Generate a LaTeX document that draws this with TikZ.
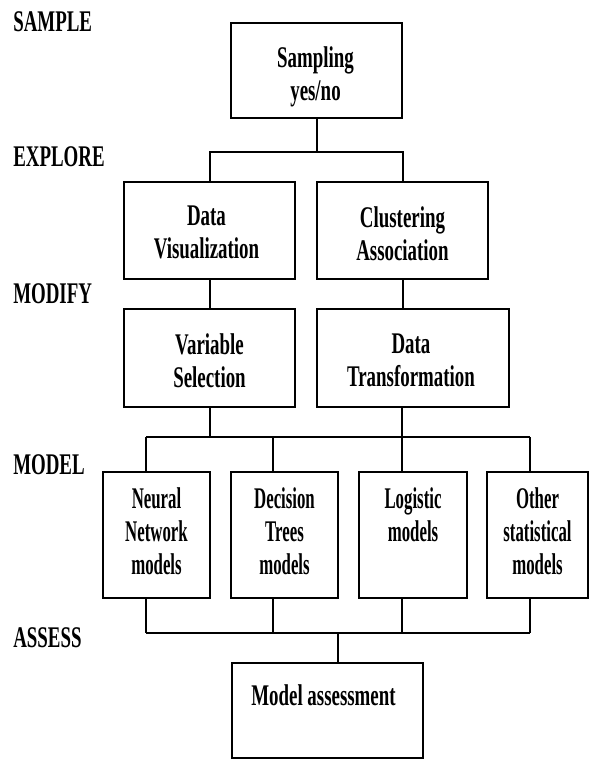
\documentclass[tikz,border=0pt]{standalone}
\usepackage{fontspec}
\setmainfont{Liberation Serif}[FakeStretch=0.63]
\newfontfamily\narrowfam{Liberation Serif}[FakeStretch=0.56]
\usetikzlibrary{calc}
\tikzset{
  box/.style={draw=black, line width=1.6pt, inner sep=0pt, fill=none},
  conn/.style={draw=black, line width=1.5pt},
  boxtext/.style={anchor=north, align=center, inner sep=0pt,
    font=\bfseries\fontsize{22.5}{24.75}\selectfont},
  modtext/.style={anchor=north, align=center, inner sep=0pt,
    font=\narrowfam\bfseries\fontsize{22.5}{25}\selectfont},
  phase/.style={anchor=base west, inner sep=0pt,
    font=\bfseries\fontsize{22.5}{24.75}\selectfont}
}
\begin{document}
\begin{tikzpicture}[x=0.75pt, y=-0.75pt]
\useasboundingbox (0,0) rectangle (589,759);
\fill[white] (0,0) rectangle (589,759);

% phase labels
\node[phase] (lsample)  at (13,32)  {SAMPLE};
\node[phase] (lexplore) at (13,167) {EXPLORE};
\node[phase] (lmodify)  at (13,303) {MODIFY};
\node[phase] (lmodel)   at (13,474) {MODEL};
\node[phase] (lassess)  at (13,647) {ASSESS};

% boxes
\node[box, minimum width=171*0.75pt, minimum height=95*0.75pt]  (samp)  at (316.5,70.5) {};
\node[box, minimum width=171*0.75pt, minimum height=97*0.75pt]  (vis)   at (209.5,230.5) {};
\node[box, minimum width=171*0.75pt, minimum height=97*0.75pt]  (clus)  at (402.5,230.5) {};
\node[box, minimum width=171*0.75pt, minimum height=98*0.75pt]  (var)   at (209.5,358) {};
\node[box, minimum width=192*0.75pt, minimum height=98*0.75pt]  (trans) at (413,358) {};
\node[box, minimum width=107*0.75pt, minimum height=126*0.75pt] (nn)    at (156.5,535) {};
\node[box, minimum width=107*0.75pt, minimum height=126*0.75pt] (dt)    at (284.5,535) {};
\node[box, minimum width=108*0.75pt, minimum height=126*0.75pt] (lg)    at (413,535) {};
\node[box, minimum width=101*0.75pt, minimum height=126*0.75pt] (ot)    at (537.5,535) {};
\node[box, minimum width=191*0.75pt, minimum height=95*0.75pt]  (ma)    at (327.5,710.5) {};

% box texts
\node[boxtext] (tsamp)  at ($(samp.north)+(-1,24)$)  {Sampling\\yes/no};
\node[boxtext] (tvis)   at ($(vis.north)+(-3,25)$)   {Data\\Visualization};
\node[boxtext] (tclus)  at ($(clus.north)+(0,25)$)   {Clustering\\Association};
\node[boxtext] (tvar)   at ($(var.north)+(0,25)$)    {Variable\\Selection};
\node[boxtext] (ttrans) at ($(trans.north)+(-2,26)$) {Data\\Transformation};
\node[modtext] (tnn)    at ($(nn.north)+(0,16)$)     {Neural\\Network\\models};
\node[modtext] (tdt)    at ($(dt.north)+(0,16)$)     {Decision\\Trees\\models};
\node[modtext] (tlg)    at ($(lg.north)+(0,16)$)     {Logistic\\models};
\node[modtext] (tot)    at ($(ot.north)+(0,16)$)     {Other\\statistical\\models};
\node[boxtext] (tma)    at ($(ma.north)+(-4,22)$)    {Model assessment};

% bus coordinates
\coordinate (b1) at (316.5,152);
\coordinate (m1) at (146,437);
\coordinate (m2) at (273,437);
\coordinate (m3) at (402,437);
\coordinate (m4) at (530,437);
\coordinate (a1) at (146,633);
\coordinate (a2) at (273,633);
\coordinate (a3) at (402,633);
\coordinate (a4) at (530,633);
\coordinate (a0) at (338,633);

% connectors
\draw[conn] (samp.south) -- (b1);
\draw[conn] (vis.north) |- (b1) -| (clus.north);
\draw[conn] (vis.south) -- (var.north);
\draw[conn] (clus.south) -- (clus.south |- trans.north);
\draw[conn] (var.south) -- (var.south |- m1);
\draw[conn] (m3 |- trans.south) -- (m3);
\draw[conn] (m1) -- (m4);
\draw[conn] (m1) -- (m1 |- nn.north);
\draw[conn] (m2) -- (m2 |- dt.north);
\draw[conn] (m3) -- (m3 |- lg.north);
\draw[conn] (m4) -- (m4 |- ot.north);
\draw[conn] (a1 |- nn.south) -- (a1);
\draw[conn] (a2 |- dt.south) -- (a2);
\draw[conn] (a3 |- lg.south) -- (a3);
\draw[conn] (a4 |- ot.south) -- (a4);
\draw[conn] (a1) -- (a4);
\draw[conn] (a0) -- (a0 |- ma.north);
\end{tikzpicture}
\end{document}
